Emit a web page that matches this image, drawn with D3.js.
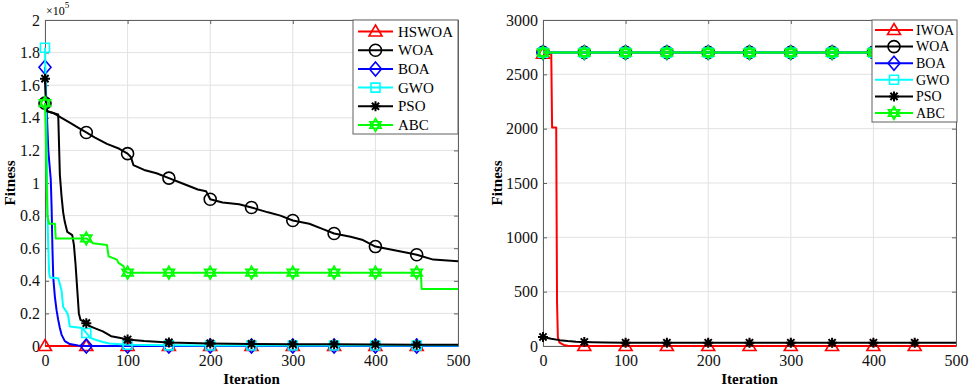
<!DOCTYPE html>
<html>
<head>
<meta charset="utf-8">
<script src="https://cdn.jsdelivr.net/npm/d3@7/dist/d3.min.js"></script>
<style>
body { margin: 0; background: #fff; }
svg { display: block; }
svg text { font-family: "Liberation Serif", "Times New Roman", serif; }
</style>
</head>
<body>
<svg id="svg"></svg>
<script>
var width = 969, height = 386;
var svg = d3.select("#svg")
	.attr("width", width)
	.attr("height", height)
	.attr("font-family", "Liberation Serif");

// iterations where markers sit, and axis ticks
var markIters = [0, 50, 100, 150, 200, 250, 300, 350, 400, 450];
var xTicks = [0, 100, 200, 300, 400, 500];
var yTicksL = [0, 0.2, 0.4, 0.6, 0.8, 1, 1.2, 1.4, 1.6, 1.8, 2];
var yTicksR = [0, 500, 1000, 1500, 2000, 2500, 3000];
var namesL = ["HSWOA", "WOA", "BOA", "GWO", "PSO", "ABC"];
var namesR = ["IWOA", "WOA", "BOA", "GWO", "PSO", "ABC"];

// left panel, fitness in units of 1e5, [iteration, fitness]
var hswoaL = [[0,0],[50,0],[100,0],[150,0],[200,0],[250,0],[300,0],[350,0],[400,0],[450,0],[500,0]];
var woaL = [[0,1.49],[1,1.47],[3,1.44],[10,1.43],[20,1.40],[30,1.37],[40,1.34],[50,1.31],[60,1.28],[75,1.24],[90,1.21],[100,1.18],[104,1.16],[107,1.11],[120,1.08],[135,1.06],[150,1.03],[165,1.00],[185,0.96],[195,0.95],[200,0.90],[215,0.88],[235,0.87],[250,0.85],[270,0.82],[285,0.80],[300,0.77],[320,0.75],[335,0.72],[350,0.69],[370,0.67],[385,0.65],[400,0.61],[420,0.59],[440,0.57],[450,0.56],[470,0.53],[500,0.52]];
var boaL = [[0,1.71],[2,1.45],[4,1.2],[6,1.08],[7,1.02],[8,0.85],[9,0.6],[10,0.42],[12,0.3],[14,0.22],[16,0.16],[18,0.11],[20,0.07],[24,0.03],[30,0.012],[40,0.003],[50,0],[100,0],[150,0],[200,0],[250,0],[300,0],[350,0],[400,0],[450,0],[500,0]];
var gwoL = [[0,1.83],[1,1.55],[2,1.2],[3,0.8],[4,0.6],[5,0.45],[6,0.42],[16,0.415],[18,0.38],[20,0.34],[22,0.24],[26,0.21],[28,0.19],[30,0.12],[45,0.11],[50,0.08],[55,0.05],[60,0.04],[70,0.025],[78,0.015],[100,0.008],[150,0.004],[200,0.003],[250,0.003],[300,0.003],[350,0.003],[400,0.003],[450,0.003],[500,0.003]];
var psoL = [[0,1.64],[1,1.5],[2,1.44],[16,1.42],[18,1.05],[20,0.92],[22,0.82],[24,0.76],[27,0.70],[33,0.68],[35,0.62],[37,0.5],[39,0.35],[41,0.2],[43,0.16],[50,0.14],[55,0.12],[60,0.11],[70,0.09],[80,0.06],[90,0.05],[100,0.04],[120,0.03],[150,0.022],[200,0.016],[250,0.013],[300,0.011],[350,0.01],[400,0.009],[450,0.008],[500,0.008]];
var abcL = [[0,1.49],[1,1.3],[2,1.0],[3,0.8],[5,0.75],[12,0.75],[13,0.66],[50,0.66],[58,0.63],[75,0.62],[77,0.55],[87,0.53],[89,0.51],[95,0.49],[98,0.455],[100,0.45],[150,0.45],[200,0.45],[250,0.45],[300,0.45],[350,0.45],[400,0.45],[450,0.45],[455,0.45],[456,0.35],[500,0.35]];

// right panel, [iteration, fitness]
var iwoaR = [[0,2690],[10,2690],[11,2010],[16,2010],[17,400],[18,80],[20,30],[25,10],[30,3],[40,0],[50,0],[100,0],[150,0],[200,0],[250,0],[300,0],[350,0],[400,0],[450,0],[500,0]];
var woaR = [[0,2702],[50,2702],[100,2702],[150,2702],[200,2702],[250,2702],[300,2702],[350,2702],[400,2702],[450,2702],[500,2702]];
var boaR = [[0,2700],[50,2700],[100,2700],[150,2700],[200,2700],[250,2700],[300,2700],[350,2700],[400,2700],[450,2700],[500,2700]];
var gwoR = [[0,2700],[50,2700],[100,2700],[150,2700],[200,2700],[250,2700],[300,2700],[350,2700],[400,2700],[450,2700],[500,2700]];
var psoR = [[0,83],[10,66],[20,54],[30,46],[40,40],[50,37],[60,34],[75,32],[100,30],[150,30],[200,30],[250,30],[300,30],[350,30],[400,30],[450,30],[500,30]];
var abcR = [[0,2700],[50,2700],[100,2700],[150,2700],[200,2700],[250,2700],[300,2700],[350,2700],[400,2700],[450,2700],[500,2700]];

var colors = ["#ff0000", "#000000", "#0000ff", "#00ffff", "#000000", "#00ff00"];
var marks = ["tri", "circle", "diamond", "square", "star", "hex"];

function markerPath(m) {
	if (m == "tri") return "M0,-6.5L6.5,4.5L-6.5,4.5Z";
	if (m == "circle") return "M6,0A6,6 0 1,1 -6,0A6,6 0 1,1 6,0Z";
	if (m == "diamond") return "M0,-7L6,0L0,7L-6,0Z";
	if (m == "square") return "M-4.5,-4.5H4.5V4.5H-4.5Z";
	if (m == "star") return "M0,-5V5M-5,0H5M-3.6,-3.6L3.6,3.6M-3.6,3.6L3.6,-3.6";
	// hexagram
	var p = "", r = 6.5, a;
	for (var t = 0; t < 2; t++) {
		for (var i = 0; i < 3; i++) {
			a = (-90 + t * 60 + i * 120) * Math.PI / 180;
			p += (i == 0 ? "M" : "L") + (r * Math.cos(a)).toFixed(2) + "," + (r * Math.sin(a)).toFixed(2);
		}
		p += "Z";
	}
	return p;
}

function panel(cfg) {
	var x = d3.scaleLinear().domain([0, 500]).range(cfg.xr);
	var y = d3.scaleLinear().domain(cfg.yd).range([346, 20]);
	var g = svg.append("g");
	var axisColor = "#606060";

	// grid
	g.append("g").selectAll("line").data(xTicks).enter().append("line")
		.attr("x1", function(d) { return x(d); }).attr("x2", function(d) { return x(d); })
		.attr("y1", 20).attr("y2", 346)
		.attr("stroke", "#e2e2e2");
	g.append("g").selectAll("line").data(cfg.yTicks).enter().append("line")
		.attr("y1", function(d) { return y(d); }).attr("y2", function(d) { return y(d); })
		.attr("x1", cfg.xr[0]).attr("x2", cfg.xr[1])
		.attr("stroke", "#e2e2e2");

	// axes (box, ticks inward)
	var ax = [
		g.append("g").attr("transform", "translate(0,346)")
			.call(d3.axisBottom(x).tickValues(xTicks).tickSizeInner(-4).tickSizeOuter(0).tickPadding(9)),
		g.append("g").attr("transform", "translate(0,20)")
			.call(d3.axisTop(x).tickValues(xTicks).tickSizeInner(-4).tickSizeOuter(0).tickFormat("")),
		g.append("g").attr("transform", "translate(" + cfg.xr[0] + ",0)")
			.call(d3.axisLeft(y).tickValues(cfg.yTicks).tickSizeInner(-4).tickSizeOuter(0).tickPadding(5).tickFormat(cfg.fmt)),
		g.append("g").attr("transform", "translate(" + cfg.xr[1] + ",0)")
			.call(d3.axisRight(y).tickValues(cfg.yTicks).tickSizeInner(-4).tickSizeOuter(0).tickFormat(""))
	];
	ax.forEach(function(a) {
		a.attr("font-family", "Liberation Serif").attr("font-size", 16);
		a.select(".domain").attr("stroke", axisColor);
		a.selectAll(".tick line").attr("stroke", axisColor);
		a.selectAll(".tick text").attr("fill", "#111");
	});

	// axis labels
	g.append("text")
		.attr("transform", "translate(" + cfg.ylabX + ",183) rotate(-90)")
		.attr("text-anchor", "middle")
		.attr("font-weight", "bold")
		.attr("font-size", 15)
		.text("Fitness");
	g.append("text")
		.attr("x", (cfg.xr[0] + cfg.xr[1]) / 2)
		.attr("y", 384)
		.attr("text-anchor", "middle")
		.attr("font-weight", "bold")
		.attr("font-size", 15)
		.text("Iteration");

	// curves
	var line = d3.line()
		.x(function(d) { return x(d[0]); })
		.y(function(d) { return y(d[1]); });

	cfg.series.forEach(function(s, i) {
		var sg = g.append("g");
		sg.append("path")
			.attr("d", line(s))
			.attr("fill", "none")
			.attr("stroke", colors[i])
			.attr("stroke-width", 2)
			.attr("stroke-linejoin", "round");
		sg.selectAll("path.mk")
			.data(s.filter(function(d) { return markIters.indexOf(d[0]) >= 0; }))
			.enter().append("path")
			.attr("class", "mk")
			.attr("transform", function(d) { return "translate(" + x(d[0]) + "," + y(d[1]) + ")"; })
			.attr("d", markerPath(marks[i]))
			.attr("fill", "none")
			.attr("stroke", colors[i])
			.attr("stroke-width", marks[i] == "star" ? 2 : 1.6);
	});

	// legend
	var L = cfg.leg;
	var lg = g.append("g");
	lg.append("rect")
		.attr("x", L.x).attr("y", 20)
		.attr("width", L.w).attr("height", L.h)
		.attr("fill", "#fff")
		.attr("stroke", axisColor);
	cfg.names.forEach(function(n, i) {
		var yy = L.y0 + i * L.dy;
		lg.append("line")
			.attr("x1", L.lx0).attr("x2", L.lx1)
			.attr("y1", yy).attr("y2", yy)
			.attr("stroke", colors[i]).attr("stroke-width", 2);
		lg.append("path")
			.attr("transform", "translate(" + (L.lx0 + L.lx1) / 2 + "," + yy + ")")
			.attr("d", markerPath(marks[i]))
			.attr("fill", "none")
			.attr("stroke", colors[i])
			.attr("stroke-width", marks[i] == "star" ? 2 : 1.6);
		lg.append("text")
			.attr("x", L.tx).attr("y", yy)
			.attr("dy", "0.34em")
			.attr("font-size", L.fs)
			.text(n);
	});
	return g;
}

var left = panel({
	xr: [45, 458], yd: [0, 2], yTicks: yTicksL,
	fmt: function(d) { return String(+d.toFixed(1)); },
	ylabX: 15,
	series: [hswoaL, woaL, boaL, gwoL, psoL, abcL],
	names: namesL,
	leg: { x: 353, w: 105, h: 114, y0: 31.5, dy: 18.7, lx0: 358, lx1: 393, tx: 398, fs: 15 }
});

// exponent label
var ex = left.append("text").attr("x", 46).attr("y", 15).attr("font-size", 12);
ex.append("tspan").text("×10");
ex.append("tspan").attr("font-size", 9).attr("dy", -7).text("5");

panel({
	xr: [543, 956], yd: [0, 3000], yTicks: yTicksR,
	fmt: function(d) { return String(d); },
	ylabX: 502,
	series: [iwoaR, woaR, boaR, gwoR, psoR, abcR],
	names: namesR,
	leg: { x: 872, w: 85, h: 102, y0: 30, dy: 16.6, lx0: 875, lx1: 913, tx: 916, fs: 14 }
});
</script>
</body>
</html>
